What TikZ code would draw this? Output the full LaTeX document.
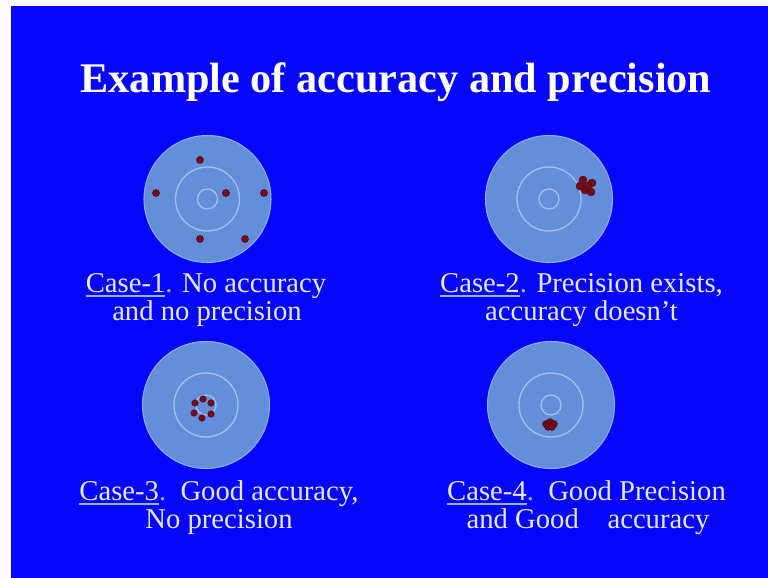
\documentclass[tikz,border=0pt]{standalone}
\usepackage{fontspec}
\setmainfont{Liberation Serif}
\definecolor{slideblue}{RGB}{6,6,252}
\definecolor{discblue}{RGB}{98,142,218}
\definecolor{rimblue}{RGB}{140,175,235}
\definecolor{ringblue}{RGB}{160,192,240}
\definecolor{shotred}{RGB}{115,12,28}
\definecolor{textwhite}{RGB}{228,232,248}
\definecolor{ulblue}{RGB}{150,180,240}
\newlength\casewd
\newcommand\casetag[1]{\settowidth\casewd{#1}\rlap{\color{ulblue}\rule[-4pt]{\casewd}{1.5pt}}#1\textcolor{ulblue}{.}}
\begin{document}
\begin{tikzpicture}[x=0.75pt,y=-0.75pt,
  disc/.style={fill=discblue,draw=rimblue,line width=0.8pt},
  ring/.style={draw=ringblue,line width=1pt},
  shot/.style={fill=shotred,draw=shotred!70!black,line width=0.3pt},
  caption/.style={text=textwhite,font=\fontsize{21.5}{26}\selectfont,anchor=base,inner sep=0pt}]
  \useasboundingbox (0,0) rectangle (768,578);
  \fill[white] (0,0) rectangle (768,578);
  \fill[slideblue] (11,6) rectangle (768,578);
  % title
  \node[anchor=base, text=white, font=\fontsize{31.7}{38}\selectfont\bfseries, inner sep=0pt] (title) at (396,92) {Example of accuracy and precision};
  % targets
  \foreach \cx/\cy in {207.5/199, 549/199, 206/405, 551/405}{
    \filldraw[disc] (\cx,\cy) circle (63.5);
    \draw[ring] (\cx,\cy) circle (32);
    \draw[ring] (\cx,\cy) circle (10);
  }
  % case 1: scattered
  \foreach \px/\py in {200/160, 156/193, 226/193, 264/193, 200/239, 245/239}
    \filldraw[shot] (\px,\py) circle (3.6);
  % case 2: tight group off centre
  \foreach \px/\py in {583/180, 592/183, 585/190, 591/192, 580/186, 588/186}
    \filldraw[shot] (\px,\py) circle (4);
  % case 3: ring round the centre
  \foreach \px/\py in {203/399, 211/403, 195/403, 211/414, 202/418, 194/413}
    \filldraw[shot] (\px,\py) circle (3.3);
  % case 4: tight group near centre
  \foreach \px/\py in {546/424, 550/422, 554/424, 548/427, 552/427}
    \filldraw[shot] (\px,\py) circle (3.5);
  % captions
  \node[caption] (c1a) at (206,292) {\casetag{Case-1} No accuracy};
  \node[caption] (c1b) at (207,320) {and no precision};
  \node[caption] (c2a) at (581.5,292) {\casetag{Case-2} Precision exists,};
  \node[caption] (c2b) at (581.5,320) {accuracy doesn't};
  \node[caption] (c3a) at (219,500) {\casetag{Case-3}\ \ Good accuracy,};
  \node[caption] (c3b) at (219,528) {No precision};
  \node[caption] (c4a) at (586.5,500) {\casetag{Case-4}\ \ Good Precision};
  \node[caption] (c4b) at (588,528) {and Good\quad accuracy};
\end{tikzpicture}
\end{document}
